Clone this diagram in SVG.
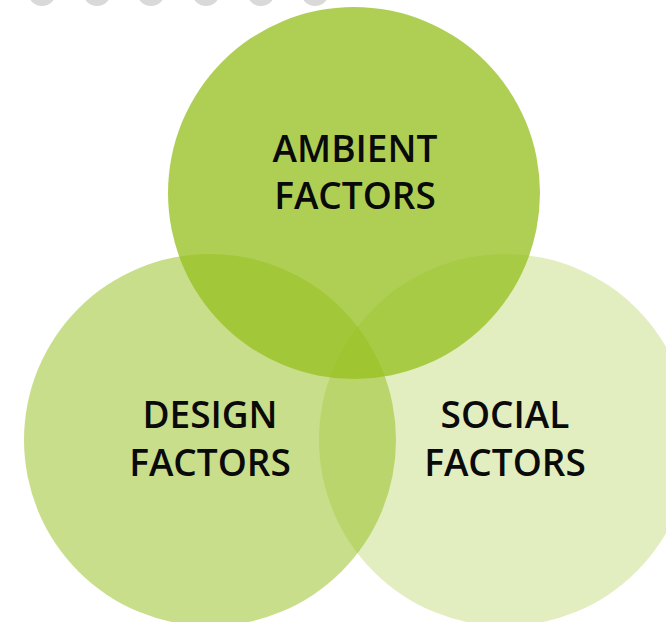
<svg xmlns="http://www.w3.org/2000/svg" width="666" height="622" viewBox="0 0 666 622">
<style>
.dot{fill:#d9d9d9}
.c{fill:#96c01e}
.t{font-family:"Open Sans","DejaVu Sans",sans-serif;font-size:37px;font-weight:600;fill:#0a0a0a;text-anchor:middle}
</style>
<rect width="666" height="622" fill="#ffffff"/>
<g id="dots">
<circle class="dot" cx="42" cy="-8" r="14"/>
<circle class="dot" cx="97" cy="-8" r="14"/>
<circle class="dot" cx="151" cy="-8" r="14"/>
<circle class="dot" cx="206" cy="-8" r="14"/>
<circle class="dot" cx="261" cy="-8" r="14"/>
<circle class="dot" cx="315" cy="-8" r="14"/>
</g>
<g id="design">
<circle class="c" cx="210" cy="440" r="186" fill-opacity="0.52"/>
</g>
<g id="social">
<circle class="c" cx="505" cy="440" r="186" fill-opacity="0.28"/>
</g>
<g id="ambient">
<circle class="c" cx="354" cy="193" r="186" fill-opacity="0.76"/>
</g>
<g id="labels">
<text class="t" x="355" y="162">AMBIENT</text>
<text class="t" x="355" y="209">FACTORS</text>
<text class="t" x="210" y="428">DESIGN</text>
<text class="t" x="210" y="476">FACTORS</text>
<text class="t" x="505" y="428">SOCIAL</text>
<text class="t" x="505" y="476">FACTORS</text>
</g>
<g id="connectors"/>
</svg>
